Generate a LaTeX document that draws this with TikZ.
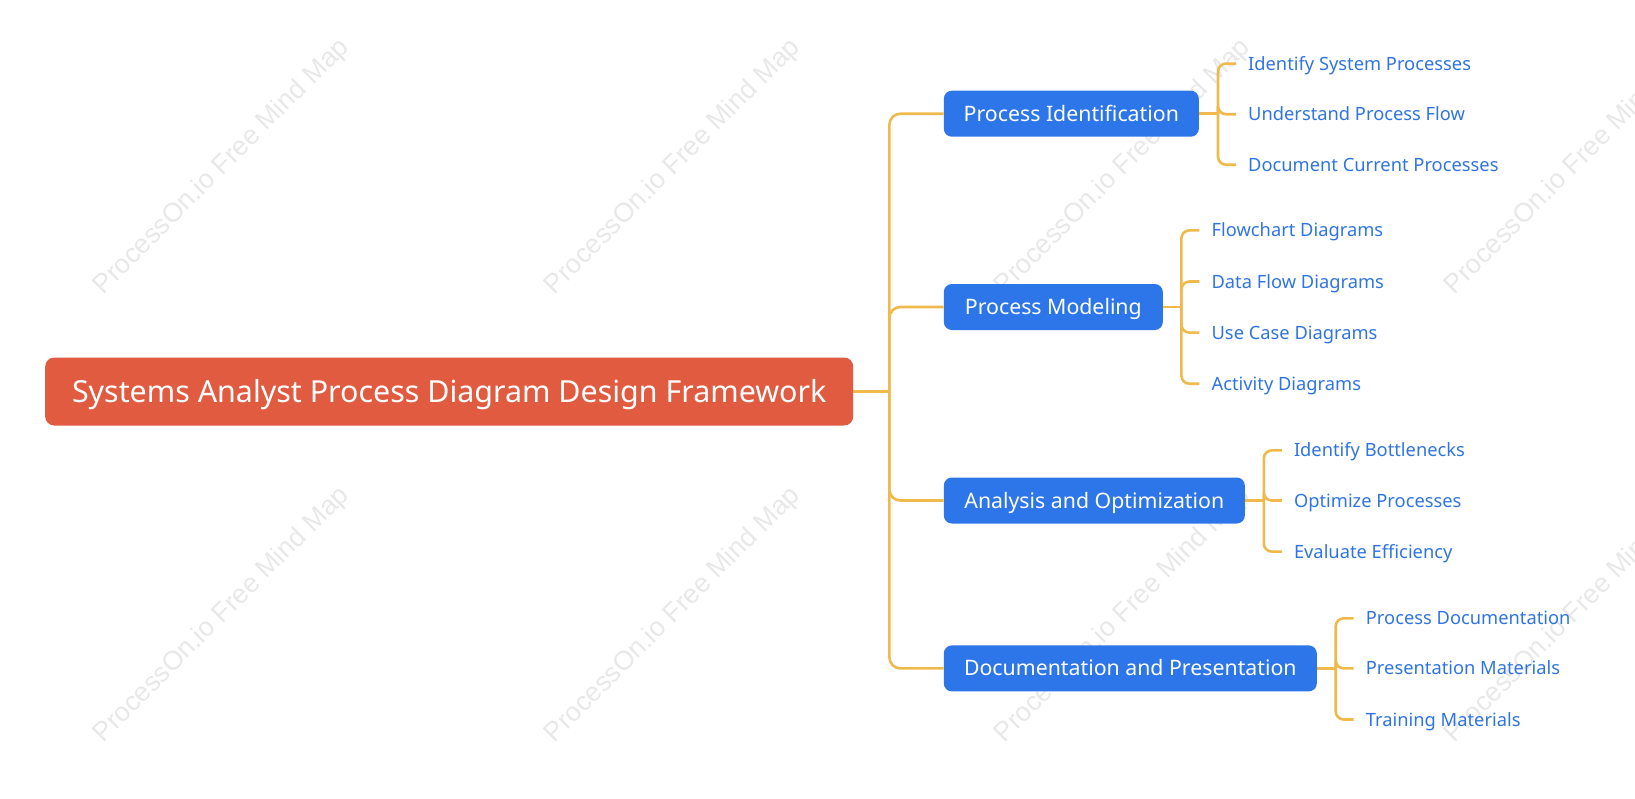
\documentclass[tikz,border=0pt]{standalone}
\usepackage{fontspec}
\setmainfont{Noto Sans}
\newfontfamily\wmfont{Liberation Sans}
\definecolor{rootc}{HTML}{E15B40}
\definecolor{bluec}{HTML}{2D76EA}
\definecolor{leafc}{HTML}{2F74E6}
\definecolor{linec}{HTML}{F0B94C}
\definecolor{wmc}{HTML}{E8E8E8}
\begin{document}
\begin{tikzpicture}[x=1pt,y=-1pt,
 rootbox/.style={fill=rootc, rounded corners=9pt, text=white, minimum width=808pt, minimum height=68pt, font=\fontsize{30.4}{36}\selectfont, anchor=west, inner sep=0pt, text height=28.5pt, text depth=7pt},
 branchbox/.style={fill=bluec, rounded corners=8pt, text=white, minimum height=46pt, font=\fontsize{21.3}{25}\selectfont, anchor=west, inner sep=0pt, text height=20pt, text depth=5pt},
 leaf/.style={text=leafc, font=\fontsize{18.3}{22}\selectfont, anchor=west, inner xsep=12pt, inner ysep=0pt, text height=17pt, text depth=4pt},
 conn/.style={draw=linec, line width=2.6pt, rounded corners=11pt},
 bconn/.style={draw=linec, line width=2.6pt, rounded corners=8pt},
 wm/.style={text=wmc, rotate=45, font=\wmfont\fontsize{26.8}{32}\selectfont}]
\useasboundingbox (0,0) rectangle (1635,798);
% watermarks
\foreach \i/\x/\y in {1/222/167, 2/673/167, 3/1123/167, 4/1573/167, 5/222/615, 6/673/615, 7/1123/615, 8/1573/615}
  \node[wm] (wm\i) at (\x,\y) {ProcessOn.io Free Mind Map};
% root
\node[rootbox] (root) at (45,391.5) {Systems Analyst Process Diagram Design Framework};
% branches
\node[branchbox, minimum width=255pt] (pi) at (943.6,113.7) {Process Identification};
\node[branchbox, minimum width=219pt] (pm) at (943.6,307) {Process Modeling};
\node[branchbox, minimum width=301pt] (ao) at (943.6,500.5) {Analysis and Optimization};
\node[branchbox, minimum width=373pt] (dp) at (943.6,668.4) {Documentation and Presentation};
% leaves
\node[leaf] (pi1) at (1236,63.6) {Identify System Processes};
\node[leaf] (pi2) at (1236,114.2) {Understand Process Flow};
\node[leaf] (pi3) at (1236,164.7) {Document Current Processes};
\node[leaf] (pm1) at (1199.4,230.4) {Flowchart Diagrams};
\node[leaf] (pm2) at (1199.4,281.5) {Data Flow Diagrams};
\node[leaf] (pm3) at (1199.4,332.6) {Use Case Diagrams};
\node[leaf] (pm4) at (1199.4,383.7) {Activity Diagrams};
\node[leaf] (ao1) at (1281.8,450.4) {Identify Bottlenecks};
\node[leaf] (ao2) at (1281.8,500.5) {Optimize Processes};
\node[leaf] (ao3) at (1281.8,551.6) {Evaluate Efficiency};
\node[leaf] (dp1) at (1353.7,618.3) {Process Documentation};
\node[leaf] (dp2) at (1353.7,668.4) {Presentation Materials};
\node[leaf] (dp3) at (1353.7,719.5) {Training Materials};
% junctions
\coordinate (j0) at (889.4,391.5);
\coordinate (jpi) at (1218,113.7);
\coordinate (jpm) at (1181.4,307);
\coordinate (jao) at (1263.8,500.5);
\coordinate (jdp) at (1335.7,668.4);
% trunk
\draw[conn] (root.east) -- (j0);
\foreach \b in {pi,pm,ao,dp} \draw[conn] (j0) |- (\b.west);
% brackets
\foreach \b/\leaves in {pi/{pi1,pi2,pi3}, pm/{pm1,pm2,pm3,pm4}, ao/{ao1,ao2,ao3}, dp/{dp1,dp2,dp3}} {
  \draw[bconn] (\b.east) -- (j\b);
  \foreach \l in \leaves \draw[bconn] (j\b) |- (\l.west);
}
\end{tikzpicture}
\end{document}
